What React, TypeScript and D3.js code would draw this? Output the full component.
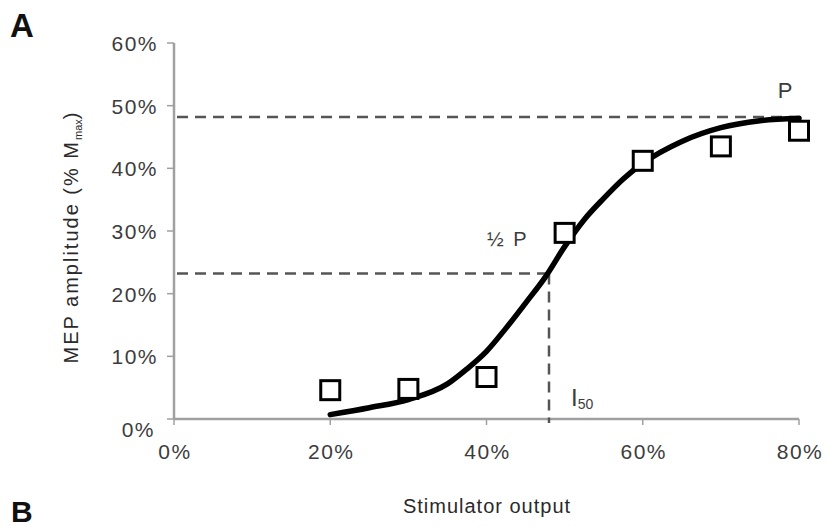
import * as d3 from "d3";
import { useEffect, useRef } from "react";

// observed points (stimulator output, MEP amplitude)
const stimLevels = [0.2, 0.3, 0.4, 0.5, 0.6, 0.7, 0.8];
const mepValues = [0.046, 0.048, 0.067, 0.297, 0.412, 0.435, 0.46];

// fitted curve
const curveX = [0.2, 0.25, 0.3, 0.35, 0.375, 0.4, 0.425, 0.45, 0.475, 0.5, 0.525, 0.55, 0.575, 0.6, 0.65, 0.7, 0.75, 0.8];
const curveY = [0.007, 0.018, 0.031, 0.056, 0.08, 0.108, 0.145, 0.185, 0.226, 0.275, 0.318, 0.352, 0.383, 0.408, 0.443, 0.465, 0.476, 0.48];

const plateau = 0.482;
const halfPlateau = 0.232;
const i50 = 0.48;

const xTicks = [0, 0.2, 0.4, 0.6, 0.8];
const yTicks = [0, 0.1, 0.2, 0.3, 0.4, 0.5, 0.6];

const W = 829;
const H = 527;

export default function App() {
  const ref = useRef<SVGSVGElement>(null);

  useEffect(() => {
    document.body.style.margin = "0";
    if (!ref.current) return;
    const svg = d3.select(ref.current);
    svg.selectAll("*").remove();

    const x = d3.scaleLinear().domain([0, 0.8]).range([174, 799]);
    const y = d3.scaleLinear().domain([0, 0.6]).range([419, 43]);
    const pct = (v: number) => `${Math.round(v * 100)}%`;
    const font = "Arial, 'Liberation Sans', sans-serif";
    const grey = "#3c3c3c";

    svg.append("rect").attr("width", W).attr("height", H).attr("fill", "#fff");

    // panel letters
    svg.append("text").attr("x", 10).attr("y", 37).text("A")
      .style("font-family", font).style("font-weight", "bold").style("font-size", "33px").attr("fill", "#111");
    svg.append("text").attr("x", 11).attr("y", 522).text("B")
      .style("font-family", font).style("font-weight", "bold").style("font-size", "30px").attr("fill", "#111");

    // axes
    const axisColor = "#a0a0a0";
    svg.append("line").attr("x1", x(0)).attr("x2", x(0)).attr("y1", y(0.6)).attr("y2", y(0))
      .attr("stroke", axisColor).attr("stroke-width", 2.5);
    svg.append("line").attr("x1", x(0)).attr("x2", x(0.8)).attr("y1", y(0)).attr("y2", y(0))
      .attr("stroke", axisColor).attr("stroke-width", 2.5);

    svg.selectAll(".ytick").data(yTicks).enter().append("line")
      .attr("x1", x(0) - 7).attr("x2", x(0)).attr("y1", (d) => y(d)).attr("y2", (d) => y(d))
      .attr("stroke", axisColor).attr("stroke-width", 1.5);
    svg.selectAll(".xtick").data(xTicks).enter().append("line")
      .attr("x1", (d) => x(d)).attr("x2", (d) => x(d)).attr("y1", y(0)).attr("y2", y(0) + 6)
      .attr("stroke", axisColor).attr("stroke-width", 1.5);

    svg.selectAll(".ylab").data(yTicks).enter().append("text")
      .attr("x", (d) => (d === 0 ? 155 : 158))
      .attr("y", (d) => (d === 0 ? 437 : y(d) + 8))
      .attr("text-anchor", "end").text(pct)
      .style("font-family", font).style("font-size", "21px").style("letter-spacing", "1.5px").attr("fill", grey);
    svg.selectAll(".xlab").data(xTicks).enter().append("text")
      .attr("x", (d) => x(d) + 1).attr("y", 459).attr("text-anchor", "middle").text(pct)
      .style("font-family", font).style("font-size", "21px").style("letter-spacing", "1.5px").attr("fill", grey);

    // axis titles
    svg.append("text").attr("x", 487).attr("y", 513).attr("text-anchor", "middle")
      .text("Stimulator output").style("font-family", font).style("font-size", "20px")
      .style("letter-spacing", "1px").attr("fill", "#2a2a2a");
    const yt = svg.append("text").attr("transform", "translate(78,237) rotate(-90)").attr("text-anchor", "middle")
      .style("font-family", font).style("font-size", "20px").style("letter-spacing", "2px").attr("fill", "#2a2a2a");
    yt.append("tspan").text("MEP amplitude (% M");
    yt.append("tspan").attr("dy", 4).style("font-size", "11px").style("letter-spacing", "0px").text("max");
    yt.append("tspan").attr("dy", -4).text(")");

    // dashed guides
    const dash = { stroke: "#555", w: 2.5, da: "11,7" };
    svg.append("line").attr("x1", x(0) + 3).attr("x2", x(0.792)).attr("y1", y(plateau)).attr("y2", y(plateau))
      .attr("stroke", dash.stroke).attr("stroke-width", dash.w).attr("stroke-dasharray", dash.da);
    svg.append("line").attr("x1", x(0) + 3).attr("x2", x(i50)).attr("y1", y(halfPlateau)).attr("y2", y(halfPlateau))
      .attr("stroke", dash.stroke).attr("stroke-width", dash.w).attr("stroke-dasharray", dash.da);
    svg.append("line").attr("x1", x(i50)).attr("x2", x(i50)).attr("y1", y(halfPlateau)).attr("y2", y(0) + 4)
      .attr("stroke", dash.stroke).attr("stroke-width", dash.w).attr("stroke-dasharray", dash.da);

    // fitted curve
    const line = d3.line<number>()
      .x((d) => x(d))
      .y((_, i) => y(curveY[i]))
      .curve(d3.curveMonotoneX);
    svg.append("path").attr("d", line(curveX)).attr("fill", "none")
      .attr("stroke", "#000").attr("stroke-width", 5.5).attr("stroke-linecap", "round");

    // squares
    const s = 19;
    svg.selectAll(".pt").data(stimLevels).enter().append("rect")
      .attr("x", (d) => x(d) - s / 2).attr("y", (_, i) => y(mepValues[i]) - s / 2)
      .attr("width", s).attr("height", s)
      .attr("fill", "#fff").attr("stroke", "#000").attr("stroke-width", 3);

    // annotations
    svg.append("text").attr("x", 785).attr("y", 98).attr("text-anchor", "middle").text("P")
      .style("font-family", font).style("font-size", "22px").attr("fill", grey);
    svg.append("text").attr("x", 487).attr("y", 246).text("½ P")
      .style("font-family", font).style("font-size", "20px").style("letter-spacing", "2px").attr("fill", grey);
    const it = svg.append("text").attr("x", 571).attr("y", 406)
      .style("font-family", font).style("font-size", "24px").attr("fill", grey);
    it.append("tspan").text("I");
    it.append("tspan").attr("dy", 3).style("font-size", "14px").text("50");
  }, []);

  return <svg ref={ref} width={W} height={H} style={{ display: "block" }} />;
}
